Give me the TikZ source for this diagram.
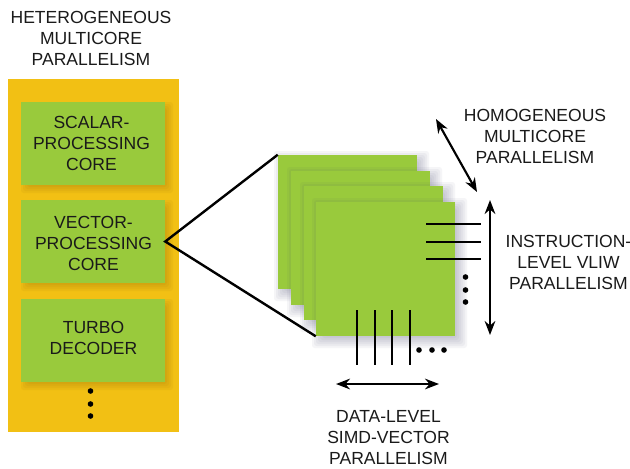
\documentclass[tikz,border=0pt]{standalone}
\usepackage{fontspec}
\setmainfont{Liberation Sans}
\usetikzlibrary{arrows.meta}
\definecolor{panelorange}{HTML}{F2C014}
\definecolor{coregreen}{HTML}{99CA3C}
\definecolor{inktext}{HTML}{1A1A1A}
\definecolor{shadowink}{HTML}{4A4E70}
\definecolor{shadowbrown}{HTML}{6B4A10}
\newcommand{\softshade}[6]{%
  \foreach \k in {-4,-2,...,#6}
    \fill[#5,fill opacity=0.055,rounded corners=2pt] (#1+4-\k,#2+4-\k) rectangle (#3+4+\k,#4+4+\k);}
\tikzset{
  corebox/.style={fill=coregreen,draw=none,minimum width=108pt,minimum height=62.25pt,inner sep=0pt},
  layerbox/.style={fill=coregreen,draw=none,minimum width=104.25pt,minimum height=100.5pt,inner sep=0pt},
  caption/.style={align=center,inner sep=0pt,font=\fontsize{13.15}{15.75}\selectfont,text=inktext},
  wire/.style={line width=1.7pt,black},
  spread/.style={line width=1.6pt,black,{Stealth[length=10.5pt,width=8pt]}-{Stealth[length=10.5pt,width=8pt]}},
  pip/.style={circle,fill=black,minimum size=4.2pt,inner sep=0pt}
}
\begin{document}
\begin{tikzpicture}[x=0.75pt,y=-0.75pt]
\useasboundingbox (0,0) rectangle (630,468);
\fill[white] (0,0) rectangle (630,468);
\node[caption] (hetero) at (91,38) {HETEROGENEOUS\\MULTICORE\\PARALLELISM};
\node[fill=panelorange,minimum width=128.25pt,minimum height=264.75pt,inner sep=0pt] (panel) at (93.5,255.5) {};
\softshade{21}{102}{165}{185}{shadowbrown}{4}
\softshade{21}{200}{165}{283}{shadowbrown}{4}
\softshade{21}{299}{165}{382}{shadowbrown}{4}
\node[corebox] (scalar) at (93,143.5) {};
\node[corebox] (vector) at (93,241.5) {};
\node[corebox] (turbo) at (93,340.5) {};
\node[caption] (scalartext) at (91.5,143) {SCALAR-\\PROCESSING\\CORE};
\node[caption] (vectortext) at (93.5,243) {VECTOR-\\PROCESSING\\CORE};
\node[caption] (turbotext) at (93.5,338) {TURBO\\DECODER};
\node[pip] (d1) at (90.5,391) {};
\node[pip] (d2) at (90.5,404) {};
\node[pip] (d3) at (90.5,416) {};
% stacked layers
\softshade{278}{155}{417}{289}{shadowink}{8}
\node[layerbox] (l1) at (347.5,222) {};
\softshade{291}{171}{430}{305}{shadowink}{8}
\node[layerbox] (l2) at (360.5,238) {};
\softshade{304}{186}{443}{320}{shadowink}{8}
\node[layerbox] (l3) at (373.5,253) {};
\softshade{316}{202}{455}{336}{shadowink}{8}
\node[layerbox] (l4) at (385.5,269) {};
% fan-out lines
\draw[wire,line width=1.8pt] (l1.north west) -- (vector.east) -- (l4.south west);
% wires
\coordinate (ra1) at (426,224); \coordinate (rb1) at (481,224);
\coordinate (ra2) at (426,242); \coordinate (rb2) at (481,242);
\coordinate (ra3) at (426,259); \coordinate (rb3) at (481,259);
\draw[wire] (ra1) -- (rb1);
\draw[wire] (ra2) -- (rb2);
\draw[wire] (ra3) -- (rb3);
\coordinate (ca1) at (357,310); \coordinate (cb1) at (357,365);
\coordinate (ca2) at (375,310); \coordinate (cb2) at (375,365);
\coordinate (ca3) at (392,310); \coordinate (cb3) at (392,365);
\coordinate (ca4) at (410,310); \coordinate (cb4) at (410,365);
\draw[wire] (ca1) -- (cb1);
\draw[wire] (ca2) -- (cb2);
\draw[wire] (ca3) -- (cb3);
\draw[wire] (ca4) -- (cb4);
\node[pip] (r1) at (465.5,277) {};
\node[pip] (r2) at (465.5,290) {};
\node[pip] (r3) at (465.5,302) {};
\node[pip] (b1) at (419,350) {};
\node[pip] (b2) at (432,350) {};
\node[pip] (b3) at (444,350) {};
% spreads
\coordinate (hA) at (436,119); \coordinate (hB) at (477,192);
\coordinate (vA) at (490,200); \coordinate (vB) at (490,335);
\coordinate (sA) at (336,384); \coordinate (sB) at (439,384);
\draw[spread] (hA) -- (hB);
\draw[spread] (vA) -- (vB);
\draw[spread] (sA) -- (sB);
\node[caption] (homo) at (535,136) {HOMOGENEOUS\\MULTICORE\\PARALLELISM};
\node[caption] (instr) at (568.5,262) {INSTRUCTION-\\LEVEL VLIW\\PARALLELISM};
\node[caption] (datal) at (388.5,438) {DATA-LEVEL\\SIMD-VECTOR\\PARALLELISM};
\end{tikzpicture}
\end{document}
